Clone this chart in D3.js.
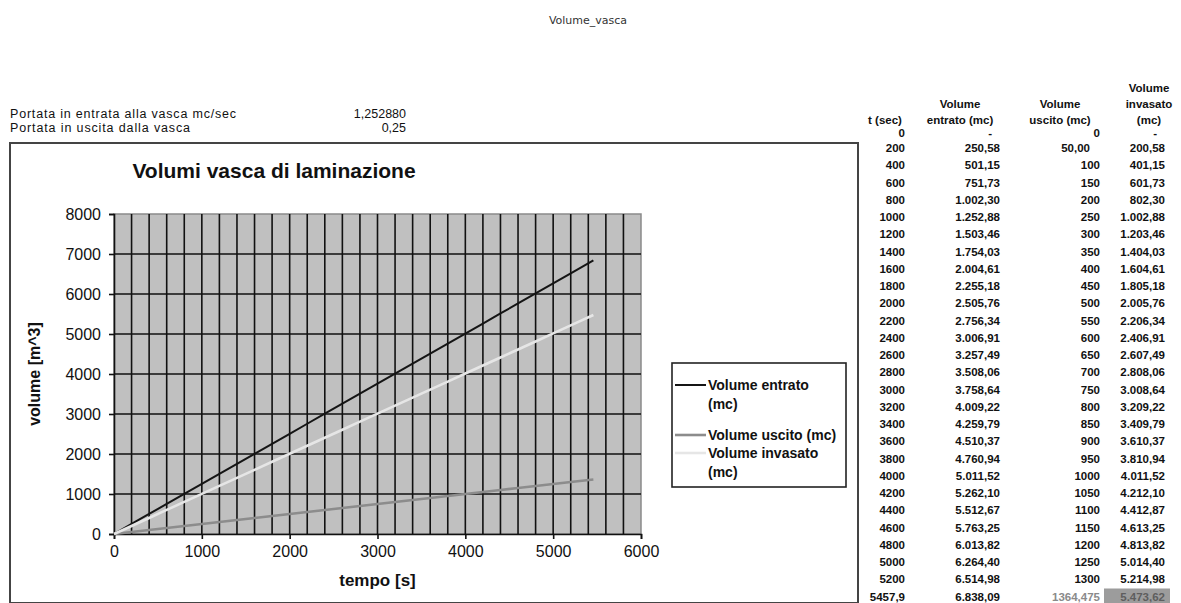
<!DOCTYPE html>
<html>
<head>
<meta charset="utf-8">
<script src="https://cdn.jsdelivr.net/npm/d3@7"></script>
<style>
  html, body { margin: 0; padding: 0; background: #fff; }
  svg { display: block; }
  text { font-family: "Liberation Sans", Arial, sans-serif; }
</style>
</head>
<body>
<svg id="sheet" width="1181" height="603"></svg>
<script>
// Time steps (s) and cumulative volumes (m³) of the retention tank
const tSec = [0, 200, 400, 600, 800, 1000, 1200, 1400, 1600, 1800, 2000, 2200, 2400, 2600,
  2800, 3000, 3200, 3400, 3600, 3800, 4000, 4200, 4400, 4600, 4800, 5000, 5200, 5457.9];
const volEntrato = [0, 250.58, 501.15, 751.73, 1002.30, 1252.88, 1503.46, 1754.03, 2004.61,
  2255.18, 2505.76, 2756.34, 3006.91, 3257.49, 3508.06, 3758.64, 4009.22, 4259.79, 4510.37,
  4760.94, 5011.52, 5262.10, 5512.67, 5763.25, 6013.82, 6264.40, 6514.98, 6838.09];
const volUscito = [0, 50, 100, 150, 200, 250, 300, 350, 400, 450, 500, 550, 600, 650, 700,
  750, 800, 850, 900, 950, 1000, 1050, 1100, 1150, 1200, 1250, 1300, 1364.475];
const volInvasato = [0, 200.58, 401.15, 601.73, 802.30, 1002.88, 1203.46, 1404.03, 1604.61,
  1805.18, 2005.76, 2206.34, 2406.91, 2607.49, 2808.06, 3008.64, 3209.22, 3409.79, 3610.37,
  3810.94, 4011.52, 4212.10, 4412.87, 4613.25, 4813.82, 5014.40, 5214.98, 5473.62];

const portataLabels = ["Portata in entrata alla vasca mc/sec", "Portata in uscita dalla vasca"];
const portataValues = [1.25288, 0.25];

const xTicks = [0, 1000, 2000, 3000, 4000, 5000, 6000];
const yTicks = [0, 1000, 2000, 3000, 4000, 5000, 6000, 7000, 8000];
const seriesNames = ["Volume entrato (mc)", "Volume uscito (mc)", "Volume invasato (mc)"];

const it = d3.formatLocale({ decimal: ",", thousands: ".", grouping: [3], currency: ["€", ""] });
const fmtGen = it.format("~f");
const fmtVol = v => v === 0 ? "-" : it.format(",.2f")(v);

const svg = d3.select("#sheet");

// Sheet title
svg.append("text").attr("x", 588).attr("y", 24).attr("text-anchor", "middle")
  .style("font-family", "'DejaVu Sans', sans-serif").style("font-size", "11px")
  .attr("fill", "#333").text("Volume_vasca");

// Flow rate cells
portataLabels.forEach((lab, i) => {
  const y = 118 + i * 14;
  svg.append("text").attr("x", 10).attr("y", y).style("font-size", "12.5px")
    .attr("fill", "#111").attr("textLength", i === 0 ? 226 : 180).text(lab);
  svg.append("text").attr("x", 406).attr("y", y).attr("text-anchor", "end")
    .style("font-size", "12.5px").attr("fill", "#111")
    .text(i === 0 ? it.format(".6f")(portataValues[i]) : it.format("~f")(portataValues[i]));
});

// Chart frame
svg.append("rect").attr("x", 10).attr("y", 143).attr("width", 848).attr("height", 460)
  .attr("fill", "#fff").attr("stroke", "#444").attr("stroke-width", 2);

svg.append("text").attr("x", 274).attr("y", 178).attr("text-anchor", "middle")
  .style("font-size", "21px").style("font-weight", "bold").attr("fill", "#111")
  .text("Volumi vasca di laminazione");

// Plot area
const plot = { left: 114, right: 641, top: 214, bottom: 534 };
const x = d3.scaleLinear().domain([0, 6000]).range([plot.left, plot.right]);
const y = d3.scaleLinear().domain([0, 8000]).range([plot.bottom, plot.top]);

svg.append("rect").attr("x", plot.left).attr("y", plot.top)
  .attr("width", plot.right - plot.left).attr("height", plot.bottom - plot.top)
  .attr("fill", "#c0c0c0").attr("stroke", "#8a8a8a").attr("stroke-width", 1.5);

// Grid: every 200 s vertically, every 1000 m³ horizontally
const vGrid = d3.range(200, 6000, 200);
svg.append("g").selectAll("line").data(vGrid).join("line")
  .attr("x1", d => x(d)).attr("x2", d => x(d))
  .attr("y1", plot.top).attr("y2", plot.bottom)
  .attr("stroke", "#111").attr("stroke-width", 1.6);
svg.append("g").selectAll("line").data(yTicks.slice(1, -1)).join("line")
  .attr("x1", plot.left).attr("x2", plot.right)
  .attr("y1", d => y(d)).attr("y2", d => y(d))
  .attr("stroke", "#111").attr("stroke-width", 1.6);

// Axes
const xAxis = svg.append("g").attr("transform", `translate(0,${plot.bottom})`)
  .call(d3.axisBottom(x).tickValues(xTicks).tickFormat(d3.format("d")).tickSize(5).tickPadding(7));
const yAxis = svg.append("g").attr("transform", `translate(${plot.left},0)`)
  .call(d3.axisLeft(y).tickValues(yTicks).tickFormat(d3.format("d")).tickSize(5).tickPadding(8));
[xAxis, yAxis].forEach(g => {
  g.select(".domain").attr("stroke", "#111").attr("stroke-width", 1.6);
  g.selectAll(".tick line").attr("stroke", "#111").attr("stroke-width", 1.6);
  g.selectAll(".tick text").style("font-size", "16px").style("font-family", "'Liberation Sans', Arial, sans-serif").attr("fill", "#111");
});

svg.append("text").attr("x", (plot.left + plot.right) / 2).attr("y", 586)
  .attr("text-anchor", "middle").style("font-size", "17px").style("font-weight", "bold")
  .attr("fill", "#111").text("tempo [s]");
svg.append("text").attr("transform", `translate(40,${(plot.top + plot.bottom) / 2}) rotate(-90)`)
  .attr("text-anchor", "middle").style("font-size", "16px").style("font-weight", "bold")
  .attr("fill", "#111").text("volume [m^3]");

// Series lines
const series = [
  { name: seriesNames[0], values: volEntrato, color: "#151515", width: 2 },
  { name: seriesNames[1], values: volUscito, color: "#8c8c8c", width: 2.6 },
  { name: seriesNames[2], values: volInvasato, color: "#e6e6e6", width: 2.6 }
];
const line = d3.line().x((d, i) => x(tSec[i])).y(d => y(d));
svg.append("g").selectAll("path").data(series).join("path")
  .attr("d", s => line(s.values)).attr("fill", "none")
  .attr("stroke", s => s.color).attr("stroke-width", s => s.width);

// Legend
const lg = svg.append("g");
lg.append("rect").attr("x", 672).attr("y", 363).attr("width", 174).attr("height", 124)
  .attr("fill", "#fff").attr("stroke", "#222").attr("stroke-width", 1.6);
const legendRows = [
  { s: series[0], lines: ["Volume entrato", "(mc)"], y: 385 },
  { s: series[1], lines: ["Volume uscito (mc)"], y: 435 },
  { s: series[2], lines: ["Volume invasato", "(mc)"], y: 453 }
];
legendRows.forEach(r => {
  lg.append("line").attr("x1", 675).attr("x2", 706).attr("y1", r.y).attr("y2", r.y)
    .attr("stroke", r.s.color).attr("stroke-width", r.s.width);
  r.lines.forEach((t, k) => {
    lg.append("text").attr("x", 708).attr("y", r.y + 5 + k * 19)
      .style("font-size", "14px").style("font-weight", "bold").attr("fill", "#111").text(t);
  });
});

// Data table
const cols = [
  { right: 905, head: ["", "", "t (sec)"], vals: tSec, fmt: v => fmtGen(v) },
  { right: 1000, head: ["", "Volume", "entrato (mc)"], vals: volEntrato, fmt: fmtVol },
  { right: 1100, head: ["", "Volume", "uscito (mc)"], vals: volUscito,
    fmt: (v, i) => i === 1 ? it.format(".2f")(v) : fmtGen(v) },
  { right: 1165, head: ["Volume", "invasato", "(mc)"], vals: volInvasato, fmt: fmtVol }
];
const tbl = svg.append("g").style("font-size", "11.5px").style("font-weight", "bold");
const headY = [92, 108, 124];
const rowY = i => i === 0 ? 133 : 148 + (i - 1) * 17.25;
const last = tSec.length - 1;

// highlighted cell on the last row
tbl.append("rect").attr("x", 1104).attr("y", rowY(last) - 8).attr("width", 66).attr("height", 16)
  .attr("fill", "#9c9c9c");

cols.forEach((c, ci) => {
  c.head.forEach((h, k) => {
    if (!h) return;
    const cx = ci === 0 ? c.right - 20 : c.right - 40;
    tbl.append("text").attr("x", ci === 3 ? c.right - 16 : cx).attr("y", headY[k])
      .attr("text-anchor", "middle").attr("fill", "#111").text(h);
  });
  c.vals.forEach((v, i) => {
    let rx = c.right;
    if (ci === 2 && i === 1) rx = c.right - 10;
    if (ci === 1 || ci === 3) { if (v === 0) rx = c.right - 8; }
    tbl.append("text").attr("x", rx).attr("y", rowY(i) + 4).attr("text-anchor", "end")
      .attr("fill", (i === last && ci >= 2) ? (ci === 2 ? "#8a8a8a" : "#5e5e5e") : "#111")
      .text(c.fmt(v, i));
  });
});
</script>
</body>
</html>
